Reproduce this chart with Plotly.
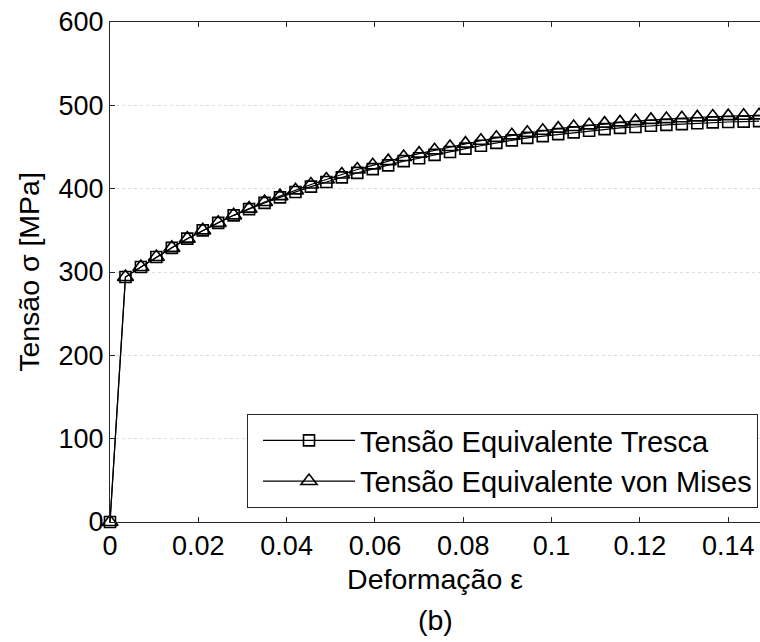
import plotly.graph_objects as go

strain = [0, 0.0035, 0.007, 0.0105, 0.014, 0.0175, 0.021, 0.0245, 0.028, 0.0315,
          0.035, 0.0385, 0.042, 0.0455, 0.049, 0.0525, 0.056, 0.0595, 0.063, 0.0665,
          0.07, 0.0735, 0.077, 0.0805, 0.084, 0.0875, 0.091, 0.0945, 0.098, 0.1015,
          0.105, 0.1085, 0.112, 0.1155, 0.119, 0.1225, 0.126, 0.1295, 0.133, 0.1365,
          0.14, 0.1435, 0.147]

von_mises = [0, 294, 306, 318, 329, 340, 350, 359, 368, 376,
             384, 391, 398, 405, 411, 417, 423, 428, 433, 438,
             442, 446, 450, 454, 457.5, 461, 464, 467, 469.5, 472,
             474, 476, 478, 479.5, 481, 482.5, 483.5, 484.5, 485.5, 486.5,
             487, 487.5, 488]

tresca = [0, 294, 306, 318, 329, 340, 350, 359, 368, 375.5,
          383, 389.5, 396, 402.5, 408, 413.5, 419, 423.5, 428, 433,
          436.5, 440.5, 444, 448, 451.5, 455, 458, 461, 463, 465.5,
          467.5, 469.5, 471.5, 473, 474, 475.5, 476.5, 477.5, 478.5, 479.5,
          480, 480.5, 481]

x_ticks = [0, 0.02, 0.04, 0.06, 0.08, 0.1, 0.12, 0.14]
x_ticklabels = ["0", "0.02", "0.04", "0.06", "0.08", "0.1", "0.12", "0.14"]
y_ticks = [0, 100, 200, 300, 400, 500, 600]

FONT = "Liberation Sans, Arial, Helvetica, sans-serif"
FS_TICK = 27
FS_TITLE = 28.5
FS_LEG = 29

fig = go.Figure()
fig.add_trace(go.Scatter(
    x=strain, y=tresca, mode="lines+markers",
    name="Tensão Equivalente Tresca",
    line=dict(color="black", width=1.2),
    marker=dict(symbol="square-open", size=11, color="black", line=dict(width=1.6)),
    cliponaxis=False,
))
fig.add_trace(go.Scatter(
    x=strain, y=von_mises, mode="lines+markers",
    name="Tensão Equivalente von Mises",
    line=dict(color="black", width=1.2),
    marker=dict(symbol="triangle-up-open", size=14, color="black", line=dict(width=1.6)),
    cliponaxis=False,
))

fig.update_layout(
    width=760, height=642,
    margin=dict(l=110, r=0, t=22, b=120),
    paper_bgcolor="white", plot_bgcolor="white",
    font=dict(family=FONT, size=FS_TICK, color="black"),
    showlegend=True,
    legend=dict(
        x=0.2108, y=0.216, xanchor="left", yanchor="top",
        bgcolor="white", bordercolor="#262626", borderwidth=1,
        font=dict(family=FONT, size=FS_LEG, color="black"),
        itemwidth=92, indentation=10, tracegroupgap=0,
    ),
)
fig.update_xaxes(
    range=[0, 0.1472], tickvals=x_ticks, ticktext=x_ticklabels,
    ticks="inside", ticklen=5, tickcolor="#262626",
    showline=True, linecolor="#262626", linewidth=1, mirror="ticks",
    showgrid=False, zeroline=False,
    title=dict(text="Deformação ε", standoff=8, font=dict(size=FS_TITLE)),
    tickfont=dict(size=FS_TICK),
)
fig.update_yaxes(
    range=[0, 600], tickvals=y_ticks,
    ticks="inside", ticklen=5, tickcolor="#262626",
    showline=True, linecolor="#262626", linewidth=1, mirror=False,
    showgrid=True, gridcolor="#dcdcdc", griddash="dot", gridwidth=1,
    zeroline=False,
    title=dict(text="Tensão σ [MPa]", standoff=10, font=dict(size=FS_TITLE)),
    tickfont=dict(size=FS_TICK),
)
fig.add_annotation(
    text="(b)", xref="paper", yref="paper", x=0.5, y=-0.195,
    xanchor="center", yanchor="middle", showarrow=False,
    font=dict(family=FONT, size=FS_TITLE, color="black"),
)

fig.write_html("out.html")
